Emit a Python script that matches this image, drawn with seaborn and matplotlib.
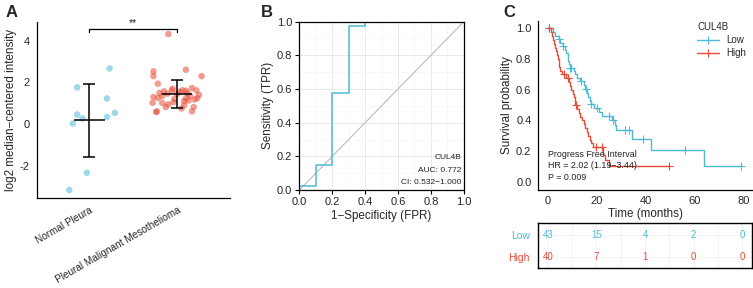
import numpy as np
import pandas as pd
import matplotlib
matplotlib.use("Agg")
import matplotlib.pyplot as plt
from matplotlib.lines import Line2D
from matplotlib.ticker import MultipleLocator, FormatStrFormatter
import seaborn as sns

BLUE = "#4DBBD5"
RED = "#E64B35"

# ---- panel A: expression per group
groups = ["Normal Pleura", "Pleural Malignant Mesothelioma"]
normal_vals = [1.76, 2.67, 1.23, 0.54, 0.34, 0.46, 0.27, 0.03, -2.34, -3.17]
normal_jitter = [-0.14, 0.23, 0.20, 0.29, 0.20, -0.14, -0.08, -0.19, -0.03, -0.23]
pmm_vals = [4.32, 2.53, 2.61, 2.30, 2.30, 1.94, 1.73, 1.57, 1.62, 1.62,
            1.62, 1.30, 1.35, 1.46, 1.21, 1.24, 1.24, 1.02, 1.02, 1.05,
            1.13, 1.18, 0.61, 0.82, 0.90, 0.82, 0.61, 0.58, 1.45, 1.55,
            1.40, 1.50, 1.10, 0.95, 1.35, 1.70, 1.25, 1.48, 0.75, 1.60]
pmm_jitter = [-0.10, -0.27, 0.10, 0.28, -0.27, -0.22, 0.17, -0.15, -0.06, 0.06,
              0.22, -0.27, -0.17, -0.11, -0.03, 0.10, 0.23, -0.28, -0.17, -0.04,
              0.13, 0.20, -0.23, -0.13, 0.08, 0.19, 0.17, -0.24, 0.00, 0.03,
              0.25, -0.20, 0.08, -0.10, 0.15, -0.05, -0.22, 0.12, 0.05, 0.10]

# ---- panel B: ROC curve
roc_fpr = [0, 0, 0.1, 0.1, 0.2, 0.2, 0.3, 0.3, 0.4, 0.4, 1.0]
roc_tpr = [0, 0.025, 0.025, 0.15, 0.15, 0.575, 0.575, 0.975, 0.975, 1.0, 1.0]
roc_text = ["CUL4B", "AUC: 0.772", "CI: 0.532\u22121.000"]

# ---- panel C: Kaplan-Meier steps
low_t = [0, 2, 3, 4.5, 5, 6, 7, 7.5, 8, 8.5, 9, 10.5, 11, 12, 13, 14.5, 15, 16,
         16.5, 17, 17.5, 19, 21, 22, 26, 27.5, 28, 34.5, 42, 64]
low_s = [1.0, 0.977, 0.953, 0.93, 0.907, 0.884, 0.86, 0.837, 0.79, 0.767, 0.744,
         0.72, 0.70, 0.677, 0.654, 0.63, 0.605, 0.58, 0.555, 0.53, 0.505, 0.48,
         0.455, 0.43, 0.405, 0.37, 0.335, 0.28, 0.21, 0.105]
low_end = 79
low_cens = [0.5, 4.5, 6, 9, 9.5, 13.5, 15.5, 17.5, 20, 25, 26.5, 31.5, 33, 39, 56, 79]

high_t = [0, 1, 1.5, 2, 2.5, 3, 3.3, 3.6, 4, 4.3, 4.6, 5, 5.5, 7.5, 8.5, 9, 9.5,
          10, 10.5, 11, 12, 12.5, 13, 14, 14.5, 15, 16, 16.5, 17, 17.5, 18.5,
          22.5, 23.5, 25]
high_s = [1.0, 0.975, 0.95, 0.925, 0.9, 0.875, 0.85, 0.825, 0.8, 0.775, 0.75,
          0.725, 0.7, 0.675, 0.65, 0.625, 0.6, 0.575, 0.55, 0.5, 0.475, 0.45,
          0.425, 0.4, 0.375, 0.35, 0.325, 0.3, 0.275, 0.25, 0.225, 0.175, 0.14, 0.1]
high_end = 49.5
high_cens = [0.5, 6.5, 8, 11.5, 19.5, 22, 49.5]

risk_times = [0, 20, 40, 60, 80]
low_risk = [43, 15, 4, 2, 0]
high_risk = [40, 7, 1, 0, 0]
km_text = ["Progress Free Interval", "HR = 2.02 (1.19\u22123.44)", "P = 0.009"]

sns.set_theme(style="white")
plt.rcParams['font.family'] = ['Liberation Sans', 'DejaVu Sans']
plt.rcParams['axes.unicode_minus'] = False
plt.rcParams['xtick.labelsize'] = 8
plt.rcParams['ytick.labelsize'] = 8

fig = plt.figure(figsize=(7.53, 2.88), dpi=100)

# ===== A
axA = fig.add_axes([0.049, 0.3125, 0.256, 0.611])
dfA = pd.DataFrame({
    "group": [groups[0]] * len(normal_vals) + [groups[1]] * len(pmm_vals),
    "value": normal_vals + pmm_vals,
    "jit": normal_jitter + pmm_jitter,
})
dfA["pos"] = dfA["group"].map({g: i + 1 for i, g in enumerate(groups)}) + dfA["jit"]
sns.scatterplot(data=dfA, x="pos", y="value", hue="group", palette=[BLUE, RED],
                s=22, alpha=0.55, linewidth=0, legend=False, ax=axA)
for i, g in enumerate(groups):
    v = dfA.loc[dfA["group"] == g, "value"]
    m, sd = v.mean(), v.std()
    axA.errorbar(i + 1, m, yerr=sd, color="black", lw=1.1, capsize=4.6, capthick=1.1)
    axA.hlines(m, i + 1 - 0.175, i + 1 + 0.175, color="black", lw=1.1)
axA.plot([1, 1, 2, 2], [4.42, 4.55, 4.55, 4.42], color="black", lw=0.9)
axA.text(1.5, 4.6, "**", ha="center", va="bottom", fontsize=7.5)
axA.set_xlim(0.4, 2.6)
axA.set_ylim(-3.55, 4.9)
axA.set_yticks([-2, 0, 2, 4])
axA.set_xticks([1, 2])
axA.set_xticklabels(groups, rotation=30, ha="right", rotation_mode="anchor", fontsize=7.2)
axA.set_xlabel("")
axA.set_ylabel("log2 median\u2212centered intensity", fontsize=8.4, labelpad=2)
sns.despine(ax=axA)
for sp in axA.spines.values():
    sp.set_color("black")
    sp.set_linewidth(0.9)
axA.tick_params(direction="out", length=3, width=0.8, color="black", pad=2)

# ===== B
axB = fig.add_axes([0.3975, 0.34, 0.2185, 0.585])
axB.plot([0, 1], [0, 1], color="#BBBBBB", lw=0.8)
sns.lineplot(x=roc_fpr, y=roc_tpr, sort=False, estimator=None, color=BLUE, lw=1.1, ax=axB)
axB.set_xlim(0, 1)
axB.set_ylim(0, 1)
axB.xaxis.set_major_locator(MultipleLocator(0.2))
axB.yaxis.set_major_locator(MultipleLocator(0.2))
axB.xaxis.set_minor_locator(MultipleLocator(0.1))
axB.yaxis.set_minor_locator(MultipleLocator(0.1))
axB.xaxis.set_major_formatter(FormatStrFormatter("%.1f"))
axB.yaxis.set_major_formatter(FormatStrFormatter("%.1f"))
axB.grid(which="major", color="#E6E6E6", lw=0.6)
axB.grid(which="minor", color="#F2F2F2", lw=0.4)
axB.set_axisbelow(True)
for sp in axB.spines.values():
    sp.set_color("black")
    sp.set_linewidth(0.9)
axB.tick_params(which="major", direction="out", length=3, width=0.8, color="black", pad=2,
                bottom=True, left=True)
axB.tick_params(which="minor", length=0)
axB.set_xlabel("1\u2212Specificity (FPR)", fontsize=8.4, labelpad=2)
axB.set_ylabel("Sensitivity (TPR)", fontsize=8.4, labelpad=2)
for k, (txt, yy) in enumerate(zip(roc_text, [0.194, 0.119, 0.047])):
    axB.text(0.984, yy, txt, ha="right", va="center", fontsize=6, color="#222222")

# ===== C
axC = fig.add_axes([0.715, 0.342, 0.285, 0.586])


def km_draw(ax, t, s, end, cens, color, label):
    xs = list(t) + [end]
    ys = list(s) + [s[-1]]
    sns.lineplot(x=xs, y=ys, sort=False, estimator=None, drawstyle="steps-post",
                 color=color, lw=1.0, ax=ax, label=label, legend=False)
    idx = np.searchsorted(t, cens, side="right") - 1
    ax.plot(cens, np.array(s)[idx], ls="none", marker="+", ms=5.5, mew=0.8, color=color)


km_draw(axC, low_t, low_s, low_end, low_cens, BLUE, "Low")
km_draw(axC, high_t, high_s, high_end, high_cens, RED, "High")
axC.set_xlim(-4, 84)
axC.set_ylim(-0.05, 1.05)
axC.set_xticks(risk_times)
axC.set_yticks([0, 0.2, 0.4, 0.6, 0.8, 1.0])
axC.yaxis.set_major_formatter(FormatStrFormatter("%.1f"))
axC.set_xlabel("Time (months)", fontsize=8.4, labelpad=1)
axC.set_ylabel("Survival probability", fontsize=8.4, labelpad=2)
sns.despine(ax=axC)
for sp in axC.spines.values():
    sp.set_color("black")
    sp.set_linewidth(0.9)
axC.tick_params(direction="out", length=3, width=0.8, color="black", pad=2)
for txt, yy in zip(km_text, [0.18, 0.105, 0.03]):
    axC.text(0, yy, txt, ha="left", va="center", fontsize=6.4, color="#222222")
handles = [Line2D([], [], color=BLUE, marker="+", ms=5.5, mew=0.8, lw=1.0),
           Line2D([], [], color=RED, marker="+", ms=5.5, mew=0.8, lw=1.0)]
leg = axC.legend(handles, ["Low", "High"], title="CUL4B", loc="upper right",
                 bbox_to_anchor=(1.0, 1.03), frameon=False, fontsize=7,
                 title_fontsize=7, handlelength=2.2, labelspacing=0.3, borderpad=0.2)
leg._legend_box.align = "left"

# ===== risk table
axT = fig.add_axes([0.7145, 0.0684, 0.2842, 0.1563])
axT.set_xlim(-4, 84)
axT.set_ylim(-0.5, 1.5)
for xv in range(0, 81, 10):
    axT.axvline(xv, color="#EEEEEE", lw=0.5, zorder=0)
for yv in [0, 1]:
    axT.axhline(yv, color="#EEEEEE", lw=0.5, zorder=0)
for tt, a, b in zip(risk_times, low_risk, high_risk):
    axT.text(tt, 1, str(a), color=BLUE, ha="center", va="center", fontsize=7)
    axT.text(tt, 0, str(b), color=RED, ha="center", va="center", fontsize=7)
axT.set_xticks([])
axT.set_yticks([1, 0])
axT.set_yticklabels(["Low", "High"], fontsize=7.5)
for lab, c in zip(axT.get_yticklabels(), [BLUE, RED]):
    lab.set_color(c)
axT.tick_params(axis="y", length=0, pad=6)
for sp in axT.spines.values():
    sp.set_color("black")
    sp.set_linewidth(1.0)

# panel letters
for x, l in [(0.007, "A"), (0.347, "B"), (0.668, "C")]:
    fig.text(x, 0.958, l, fontsize=12, weight="bold", va="center", ha="left")

fig.savefig("out.png", dpi=100)
